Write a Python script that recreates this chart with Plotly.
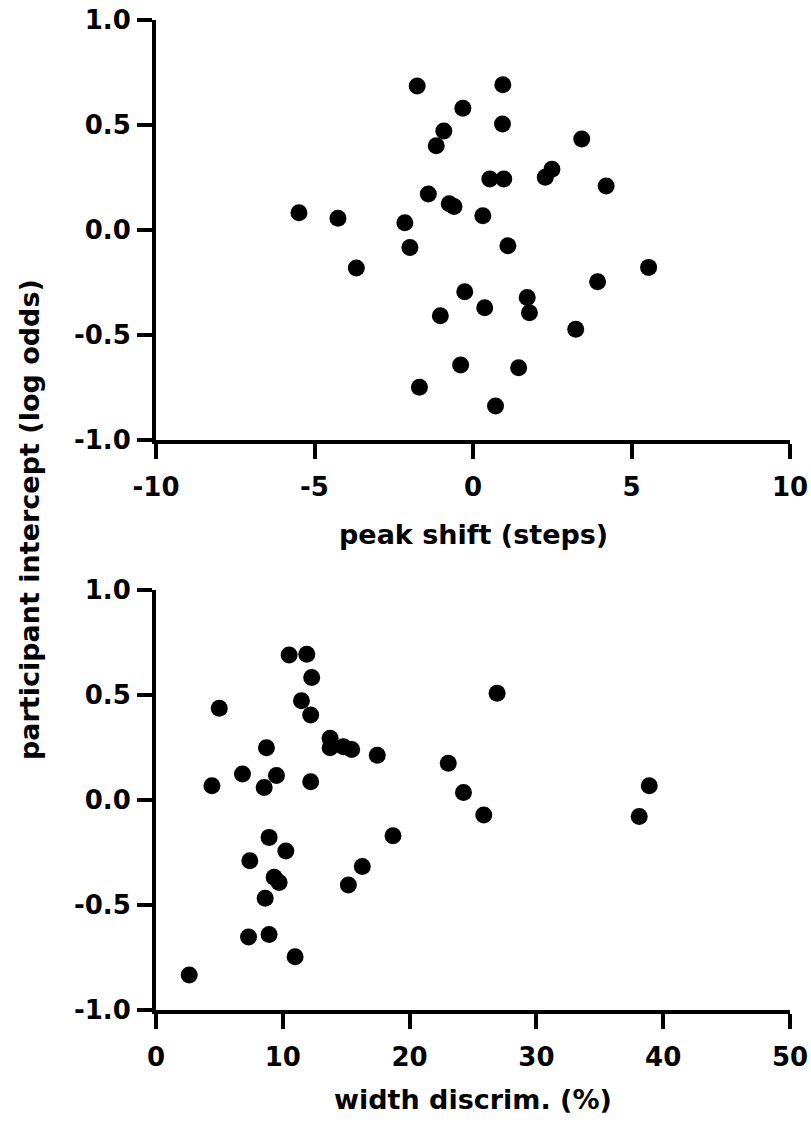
import plotly.graph_objects as go

# ---- data ----
peak_shift = [-1.76, -0.32, -0.92, -1.16, -1.41, -0.75, -0.60, -5.49, -4.26, -2.15,
              -1.99, 0.31, 0.94, 0.93, 3.43, 0.53, 0.97, 2.49, 2.28, 4.20,
              1.10, -3.68, -0.26, 0.37, -1.03, -0.39, -1.69, 5.54, 3.93, 1.71,
              1.78, 3.24, 1.44, 0.71]
intercept_a = [0.686, 0.580, 0.471, 0.401, 0.171, 0.125, 0.112, 0.082, 0.056, 0.035,
               -0.083, 0.068, 0.692, 0.505, 0.433, 0.243, 0.243, 0.289, 0.251, 0.210,
               -0.075, -0.181, -0.294, -0.370, -0.408, -0.643, -0.749, -0.178, -0.246, -0.321,
               -0.394, -0.473, -0.656, -0.838]

width_discrim = [10.5, 11.89, 12.28, 4.99, 11.47, 12.2, 13.73, 13.73, 14.78, 15.43,
                 17.45, 8.71, 6.82, 9.5, 8.53, 4.41, 12.2, 8.92, 10.24, 18.69,
                 7.4, 9.32, 9.71, 8.61, 7.3, 8.92, 10.97, 2.62, 16.27, 15.17,
                 26.9, 23.05, 24.25, 25.85, 38.9, 38.11]
intercept_b = [0.690, 0.694, 0.583, 0.437, 0.473, 0.405, 0.294, 0.249, 0.254, 0.241,
               0.213, 0.249, 0.124, 0.117, 0.059, 0.068, 0.087, -0.178, -0.243, -0.170,
               -0.289, -0.368, -0.393, -0.468, -0.652, -0.640, -0.746, -0.833, -0.317, -0.405,
               0.508, 0.175, 0.036, -0.071, 0.068, -0.079]

y_tickvals = [1.0, 0.5, 0.0, -0.5, -1.0]
y_ticktext = ["1.0", "0.5", "0.0", "-0.5", "-1.0"]
x1_tickvals = [-10, -5, 0, 5, 10]
x1_ticktext = ["-10", "-5", "0", "5", "10"]
x2_tickvals = [0, 10, 20, 30, 40, 50]
x2_ticktext = ["0", "10", "20", "30", "40", "50"]

x1_title = "peak shift (steps)"
x2_title = "width discrim. (%)"
y_title = "participant intercept (log odds)"

FONT = "DejaVu Sans"
W, H = 811, 1123
ML, MR, MT, MB = 156, 21, 20, 113
plot_h = H - MT - MB
plot_w = W - ML - MR


def py(page_y):
    """page pixel row -> paper y fraction"""
    return (H - MB - page_y) / plot_h


def px(page_x):
    return (page_x - ML) / plot_w


marker = dict(size=17, color="black", line=dict(width=0))

fig = go.Figure()
fig.add_trace(go.Scatter(x=peak_shift, y=intercept_a, mode="markers", marker=marker,
                         xaxis="x", yaxis="y", cliponaxis=False, showlegend=False))
fig.add_trace(go.Scatter(x=width_discrim, y=intercept_b, mode="markers", marker=marker,
                         xaxis="x2", yaxis="y2", cliponaxis=False, showlegend=False))

tickfont = dict(family=FONT, size=26, color="black", weight="bold")
common = dict(showgrid=False, zeroline=False, showline=True, linecolor="black", linewidth=4,
              ticks="outside", ticklen=15, tickwidth=4, tickcolor="black",
              tickfont=tickfont, fixedrange=True, automargin=False,
              ticklabeloverflow="allow")

fig.update_layout(
    width=W, height=H,
    margin=dict(l=ML, r=MR, t=MT, b=MB, autoexpand=False),
    paper_bgcolor="white", plot_bgcolor="white",
    hovermode=False,
    xaxis=dict(domain=[0, 1], anchor="y", range=[-10, 10], tickmode="array",
               tickvals=x1_tickvals, ticktext=x1_ticktext, ticklabelstandoff=6, **common),
    yaxis=dict(domain=[py(440), 1], anchor="x", range=[-1, 1], tickmode="array",
               tickvals=y_tickvals, ticktext=y_ticktext, ticklabelstandoff=1, **common),
    xaxis2=dict(domain=[0, 1], anchor="y2", range=[0, 50], tickmode="array",
                tickvals=x2_tickvals, ticktext=x2_ticktext, ticklabelstandoff=6, **common),
    yaxis2=dict(domain=[0, py(590)], anchor="x2", range=[-1, 1], tickmode="array",
                tickvals=y_tickvals, ticktext=y_ticktext, ticklabelstandoff=1, **common),
)

titlefont = dict(family=FONT, size=27, color="black", weight="bold")
fig.add_annotation(text=x1_title, xref="paper", yref="paper", x=0.5, y=py(534),
                   xanchor="center", yanchor="middle", showarrow=False, font=titlefont)
fig.add_annotation(text=x2_title, xref="paper", yref="paper", x=0.5, y=py(1099),
                   xanchor="center", yanchor="middle", showarrow=False, font=titlefont)
fig.add_annotation(text=y_title, xref="paper", yref="paper", x=px(29), y=py(520),
                   xanchor="center", yanchor="middle", textangle=-90,
                   showarrow=False, font=titlefont)

fig.write_html("out.html", config={"displayModeBar": False},
               post_script="document.body.style.margin='0';")
